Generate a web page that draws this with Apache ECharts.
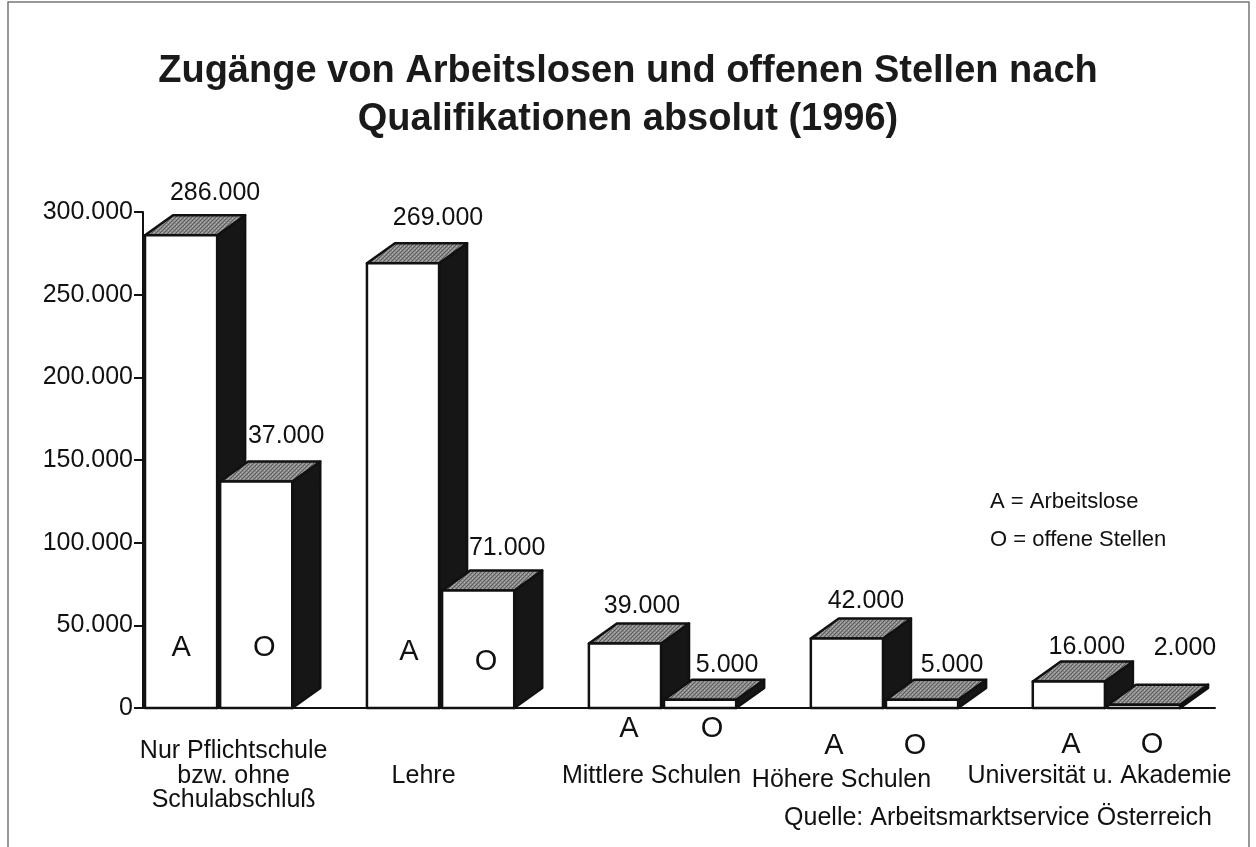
<!DOCTYPE html>
<html><head><meta charset="utf-8">
<script src="https://cdn.jsdelivr.net/npm/echarts@6/dist/echarts.min.js"></script>
<style>html,body{margin:0;padding:0;background:#fff}#c{width:1256px;height:847px}</style>
</head><body><div id="c"></div>
<script>
// ---- data ----
const categories = ['Nur Pflichtschule\nbzw. ohne\nSchulabschluß', 'Lehre', 'Mittlere Schulen', 'Höhere Schulen', 'Universität u. Akademie'];
const arbeitslose = [286000, 269000, 39000, 42000, 16000];          // bar heights A
const offeneStellen = [137000, 71000, 5000, 5000, 2000];            // bar heights O as drawn
const arbeitsloseLabels = ['286.000', '269.000', '39.000', '42.000', '16.000'];
const offeneLabels = ['37.000', '71.000', '5.000', '5.000', '2.000'];
const yTicks = [0, 50000, 100000, 150000, 200000, 250000, 300000];
const seriesLetters = ['A', 'O'];
const titleText = 'Zugänge von Arbeitslosen und offenen Stellen nach\nQualifikationen absolut (1996)';
const legendLines = ['A = Arbeitslose', 'O = offene Stellen'];
const sourceText = 'Quelle: Arbeitsmarktservice Österreich';

// ---- layout (styling only) ----
const FONT = '"Liberation Sans", Arial, Helvetica, sans-serif';
const DX = 28, DY = -20;          // 3D depth
const BAR_W = 0.325;              // bar width in category units
const labelShift = [[34, 30], [35, 29], [17, 27], [19, 30], [18, 41]];   // value label x offsets
const labelRise = [[22, 25], [25, 23], [17, 15], [17, 15], [14, 37]];
const letterPos = [[[0, -60], [8, -60]], [[6, -56], [8, -46]], [[4, 21], [12, 21]], [[-13, 38], [-7, 38]], [[2, 37], [8, 37]]];
const catPos = [[15, 68], [-17, 68], [-11, 68], [-43, 72], [-7, 68]];

function fmt(v) { return String(v).replace(/\B(?=(\d{3})+(?!\d))/g, '.'); }

// stippled grey texture for the bar tops
const pat = document.createElement('canvas');
pat.width = 4; pat.height = 4;
(function () {
  const g = pat.getContext('2d');
  g.fillStyle = '#8c8c8c'; g.fillRect(0, 0, 4, 4);
  g.fillStyle = '#5a5a5a'; g.fillRect(0, 0, 1, 1); g.fillRect(2, 2, 1, 1); g.fillRect(1, 3, 1, 1); g.fillRect(3, 1, 1, 1);
  g.fillStyle = '#b0b0b0'; g.fillRect(2, 0, 1, 1); g.fillRect(0, 2, 1, 1);
})();

const data = categories.map((c, i) => [i, arbeitslose[i], offeneStellen[i]]);

function box(x, yTop, y0, w) {
  const st = { stroke: '#111', lineWidth: 2.5, lineJoin: 'round' };
  return [
    { type: 'polygon', shape: { points: [[x + w, yTop], [x + w + DX, yTop + DY], [x + w + DX, y0 + DY], [x + w, y0]] }, style: Object.assign({ fill: '#161616' }, st) },
    { type: 'polygon', shape: { points: [[x, yTop], [x + DX, yTop + DY], [x + w + DX, yTop + DY], [x + w, yTop]] }, style: Object.assign({ fill: { image: pat, repeat: 'repeat' } }, st) },
    { type: 'rect', shape: { x: x, y: yTop, width: w, height: y0 - yTop }, style: Object.assign({ fill: '#fff' }, st) }
  ];
}
function txt(text, x, y, size, align, bold, lh) {
  return { type: 'text', x: x, y: y, style: { text: text, fill: '#111', font: (bold ? 'bold ' : '') + size + 'px ' + FONT, align: align || 'center', verticalAlign: 'middle', textAlign: align || 'center', textVerticalAlign: 'middle', lineHeight: lh || 25 } };
}

function renderItem(params, api) {
  const i = api.value(0);
  const vals = [api.value(1), api.value(2)];
  const base = api.coord([i, 0]);
  const w = api.size([BAR_W, 0])[0];
  const gap = 3;
  const y0 = base[1];
  const xs = [base[0] + 2, base[0] + 2 + w + gap];
  const labels = [arbeitsloseLabels[i], offeneLabels[i]];
  let children = [];
  for (let k = 0; k < 2; k++) {
    const yTop = api.coord([i, vals[k]])[1];
    children = children.concat(box(xs[k], yTop, y0, w));
  }
  for (let k = 0; k < 2; k++) {
    const yTop = api.coord([i, vals[k]])[1];
    children.push(txt(labels[k], xs[k] + w / 2 + labelShift[i][k], yTop + DY - labelRise[i][k], 25));
    children.push(txt(seriesLetters[k], xs[k] + w / 2 + letterPos[i][k][0], y0 + letterPos[i][k][1], 29));
  }
  const pc = xs[0] + w + gap / 2;
  children.push(txt(categories[i], pc + catPos[i][0], y0 + catPos[i][1], 25, 'center', false, 24.5));
  return { type: 'group', children: children };
}

const chart = echarts.init(document.getElementById('c'));
chart.setOption({
  backgroundColor: '#fff',
  animation: false,
  grid: { left: 143, top: 212, right: 41, bottom: 139 },
  xAxis: {
    type: 'value', min: 0, max: 4.83,
    axisLine: { show: true, lineStyle: { color: '#111', width: 2 } },
    axisTick: { show: false }, axisLabel: { show: false }, splitLine: { show: false }
  },
  yAxis: {
    type: 'value', min: yTicks[0], max: yTicks[yTicks.length - 1], interval: yTicks[1] - yTicks[0],
    axisLine: { show: true, lineStyle: { color: '#111', width: 2 } },
    axisTick: { show: true, length: 9, lineStyle: { color: '#111', width: 2 } },
    axisLabel: { formatter: fmt, fontFamily: FONT, fontSize: 25, color: '#111', margin: 10 },
    splitLine: { show: false }
  },
  series: [{
    type: 'custom', renderItem: renderItem, data: data, clip: false,
    encode: { x: 0, y: [1, 2] }
  }],
  graphic: [
    { type: 'rect', shape: { x: 8, y: 2, width: 1241, height: 850 }, style: { fill: 'none', stroke: '#777', lineWidth: 1.5 } },
    { type: 'text', x: 628, y: 96, style: { text: titleText, font: 'bold 38px ' + FONT, fill: '#1a1a1a', align: 'center', verticalAlign: 'middle', textAlign: 'center', textVerticalAlign: 'middle', lineHeight: 48 } },
    { type: 'text', x: 990, y: 502, style: { text: legendLines[0], font: '22px ' + FONT, fill: '#111', verticalAlign: 'middle', textVerticalAlign: 'middle' } },
    { type: 'text', x: 990, y: 540, style: { text: legendLines[1], font: '22px ' + FONT, fill: '#111', verticalAlign: 'middle', textVerticalAlign: 'middle' } },
    { type: 'text', x: 1212, y: 818, style: { text: sourceText, font: '25px ' + FONT, fill: '#111', align: 'right', textAlign: 'right', verticalAlign: 'middle', textVerticalAlign: 'middle' } }
  ]
});
</script></body></html>
